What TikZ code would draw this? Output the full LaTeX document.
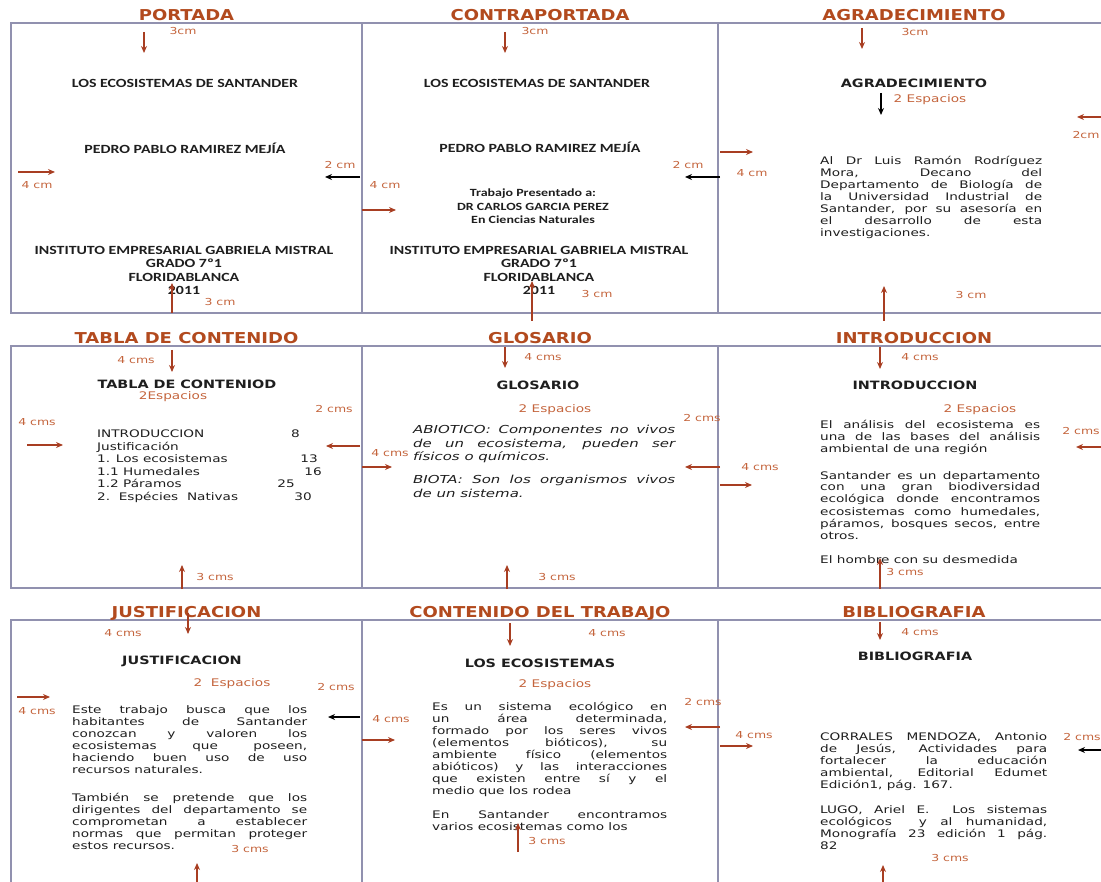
\documentclass[tikz,border=0pt]{standalone}
\usepackage{fontspec}
\usepackage{xcolor}
\usepackage{tikz}
\usetikzlibrary{arrows.meta,positioning}

\newfontfamily\pagetitlefnt[FakeStretch=1.2]{DejaVu Sans}
\newfontfamily\headfnt[FakeStretch=1.25]{DejaVu Sans}
\newfontfamily\bodyfnt[FakeStretch=1.31]{DejaVu Sans}
\newfontfamily\glossfnt[FakeStretch=1.36]{DejaVu Sans}
\newfontfamily\markfnt[FakeStretch=1.3]{DejaVu Sans}
\newfontfamily\coverfnt[FakeStretch=1.27]{Carlito}

\definecolor{titlebrown}{RGB}{178,74,30}
\definecolor{markorange}{RGB}{196,100,60}
\definecolor{arrowbrown}{RGB}{168,62,34}
\definecolor{framegray}{RGB}{145,145,175}
\definecolor{inkgray}{RGB}{30,30,30}

\tolerance=10000
\hbadness=10000
\hyphenpenalty=10000

\newcommand{\gaparrow}[4][gapline]{%
  \coordinate (#2-from) at #3;
  \coordinate (#2-to) at #4;
  \draw[#1] (#2-from) -- (#2-to);}

\begin{document}
\begin{tikzpicture}[
    x=1pt, y=-1pt,
    pagebox/.style={draw=framegray, line width=1.4pt, inner sep=0pt},
    pagetitle/.style={font=\pagetitlefnt\bfseries\fontsize{15}{16}\selectfont, text=titlebrown, inner sep=0pt, text depth=0pt},
    pagehead/.style={font=\headfnt\bfseries\fontsize{11.5}{12}\selectfont, text=inkgray, inner sep=0pt},
    coverline/.style={font=\coverfnt\bfseries\fontsize{12.5}{13.4}\selectfont, text=inkgray, align=center, inner sep=0pt},
    coversmall/.style={coverline, font=\coverfnt\bfseries\fontsize{11}{13.5}\selectfont},
    bodypara/.style={font=\bodyfnt\fontsize{10.4}{12}\selectfont, text=inkgray, align=justify, inner sep=0pt, anchor=base west},
    glosspara/.style={bodypara, font=\glossfnt\itshape\fontsize{11}{13.4}\selectfont},
    tocline/.style={font=\bodyfnt\fontsize{10.4}{12}\selectfont, text=inkgray, inner sep=0pt, anchor=base west},
    tocnum/.style={tocline, anchor=base east},
    dimlbl/.style={font=\markfnt\fontsize{9.6}{10}\selectfont, text=markorange, inner sep=0pt},
    spacelbl/.style={dimlbl, font=\markfnt\fontsize{10.5}{11}\selectfont},
    gapline/.style={draw=arrowbrown, line width=1.3pt, -{Stealth[length=7pt,width=6pt]}},
    gapblack/.style={gapline, draw=black},
]
\useasboundingbox (0,0) rectangle (1101,882);
\clip (0,0) rectangle (1101,882);

\node[pagebox, minimum width=351pt, minimum height=290pt] (portada) at (186.5,168) {};
\node[pagebox, minimum width=356pt, minimum height=290pt] (contraportada) at (540,168) {};
\node[pagebox, minimum width=392pt, minimum height=290pt] (agradecimiento) at (914,168) {};
\node[pagebox, minimum width=351pt, minimum height=242pt] (tabla) at (186.5,467) {};
\node[pagebox, minimum width=356pt, minimum height=242pt] (glosario) at (540,467) {};
\node[pagebox, minimum width=392pt, minimum height=242pt] (introduccion) at (914,467) {};
\node[pagebox, minimum width=351pt, minimum height=280pt] (justificacion) at (186.5,760) {};
\node[pagebox, minimum width=356pt, minimum height=280pt] (contenido) at (540,760) {};
\node[pagebox, minimum width=392pt, minimum height=280pt] (bibliografia) at (914,760) {};

\node[pagetitle, above=1.5pt of portada] (t-portada) {PORTADA};
\node[pagetitle, above=1.5pt of contraportada] (t-contraportada) {CONTRAPORTADA};
\node[pagetitle, above=1.5pt of agradecimiento] (t-agradecimiento) {AGRADECIMIENTO};
\node[pagetitle, above=1.5pt of tabla] (t-tabla) {TABLA DE CONTENIDO};
\node[pagetitle, above=1.5pt of glosario] (t-glosario) {GLOSARIO};
\node[pagetitle, above=1.5pt of introduccion] (t-introduccion) {INTRODUCCION};
\node[pagetitle, above=1.5pt of justificacion] (t-justificacion) {JUSTIFICACION};
\node[pagetitle, above=1.5pt of contenido] (t-contenido) {CONTENIDO DEL TRABAJO};
\node[pagetitle, above=1.5pt of bibliografia] (t-bibliografia) {BIBLIOGRAFIA};

\node[coverline] (c1-tema) at (185,83) {LOS ECOSISTEMAS DE SANTANDER};
\node[coverline] (c1-autor) at (185,148) {PEDRO PABLO RAMIREZ MEJÍA};
\node[coverline, anchor=north] (c1-inst) at (184,246) {INSTITUTO EMPRESARIAL GABRIELA MISTRAL\\GRADO 7º1\\FLORIDABLANCA\\2011};
\node[coverline] (c2-tema) at (537,83) {LOS ECOSISTEMAS DE SANTANDER};
\node[coverline] (c2-autor) at (540,147) {PEDRO PABLO RAMIREZ MEJÍA};
\node[coversmall, anchor=north] (c2-tutor) at (533,189) {Trabajo Presentado a:\\DR CARLOS GARCIA PEREZ\\En Ciencias Naturales};
\node[coverline, anchor=north] (c2-inst) at (539,246) {INSTITUTO EMPRESARIAL GABRIELA MISTRAL\\GRADO 7º1\\FLORIDABLANCA\\2011};

\node[pagehead] (h-agradecimiento) at (914,83) {AGRADECIMIENTO};
\node[pagehead] (h-tabla) at (187,384) {TABLA DE CONTENIOD};
\node[pagehead] (h-glosario) at (538,385) {GLOSARIO};
\node[pagehead] (h-introduccion) at (915,385) {INTRODUCCION};
\node[pagehead] (h-justificacion) at (182,661) {JUSTIFICACION};
\node[pagehead] (h-contenido) at (540,663) {LOS ECOSISTEMAS};
\node[pagehead] (h-bibliografia) at (915,656) {BIBLIOGRAFIA};

\node[bodypara, text width=222pt] (p3-texto) at (820,165) {Al Dr Luis Ramón Rodríguez\linebreak Mora, Decano del\linebreak Departamento de Biología de\linebreak la Universidad Industrial de\linebreak Santander, por su asesoría en\linebreak el desarrollo de esta\linebreak investigaciones.};

\node[tocline] (toc1) at (97,438) {INTRODUCCION};
\node[tocline] (toc2) at (97,450.5) {Justificación};
\node[tocline] (toc3) at (97,463) {1. Los ecosistemas};
\node[tocline] (toc4) at (97,475.5) {1.1 Humedales};
\node[tocline] (toc5) at (97,488) {1.2 Páramos};
\node[tocline] (toc6) at (97,500.5) {2.\ \ Espécies\ \ Nativas};
\node[tocnum] (num1) at (300,438) {8};
\node[tocnum] (num3) at (318,463) {13};
\node[tocnum] (num4) at (322,475.5) {16};
\node[tocnum] (num5) at (295,488) {25};
\node[tocnum] (num6) at (312,500.5) {30};

\node[glosspara, text width=262pt] (p5-abiotico) at (413,434) {ABIOTICO: Componentes no vivos\linebreak de un ecosistema, pueden ser\linebreak físicos o químicos.};
\node[glosspara, text width=262pt] (p5-biota) at (413,484) {BIOTA: Son los organismos vivos\linebreak de un sistema.};

\node[bodypara, text width=220pt] (p6-uno) at (820,429) {El análisis del ecosistema es\linebreak una de las bases del análisis\linebreak ambiental de una región};
\node[bodypara, text width=220pt] (p6-dos) at (820,479) {Santander es un departamento\linebreak con una gran biodiversidad\linebreak ecológica donde encontramos\linebreak ecosistemas como humedales,\linebreak páramos, bosques secos, entre\linebreak otros.};
\node[bodypara, text width=220pt] (p6-tres) at (820,563) {El hombre con su desmedida};

\node[bodypara, text width=235pt] (p7-uno) at (72,713) {Este trabajo busca que los\linebreak habitantes de Santander\linebreak conozcan y valoren los\linebreak ecosistemas que poseen,\linebreak haciendo buen uso de uso\linebreak recursos naturales.};
\node[bodypara, text width=235pt] (p7-dos) at (72,801) {También se pretende que los\linebreak dirigentes del departamento se\linebreak comprometan a establecer\linebreak normas que permitan proteger\linebreak estos recursos.};

\node[bodypara, text width=235pt] (p8-uno) at (432,710) {Es un sistema ecológico en\linebreak un área determinada,\linebreak formado por los seres vivos\linebreak (elementos bióticos), su\linebreak ambiente físico (elementos\linebreak abióticos) y las interacciones\linebreak que existen entre sí y el\linebreak medio que los rodea};
\node[bodypara, text width=235pt] (p8-dos) at (432,818) {En Santander encontramos\linebreak varios ecosistemas como los};

\node[bodypara, text width=227pt] (p9-uno) at (820,740) {CORRALES MENDOZA, Antonio\linebreak de Jesús, Actividades para\linebreak fortalecer la educación\linebreak ambiental, Editorial Edumet\linebreak Edición1, pág. 167.};
\node[bodypara, text width=227pt] (p9-dos) at (820,813) {LUGO, Ariel E.\ \ Los sistemas\linebreak ecológicos\ \ y al humanidad,\linebreak Monografía 23 edición 1 pág.\linebreak 82};

\node[dimlbl] (p1-toplbl) at (183,31) {3cm};
\node[dimlbl] (p1-leftlbl) at (37,185) {4 cm};
\node[dimlbl] (p1-rightlbl) at (340,165) {2 cm};
\node[dimlbl] (p1-botlbl) at (220,302) {3 cm};
\node[dimlbl] (p2-toplbl) at (535,31) {3cm};
\node[dimlbl] (p2-leftlbl) at (385,185) {4 cm};
\node[dimlbl] (p2-rightlbl) at (688,165) {2 cm};
\node[dimlbl] (p2-botlbl) at (597,294) {3 cm};
\node[dimlbl] (p3-toplbl) at (915,32) {3cm};
\node[dimlbl] (p3-leftlbl) at (752,173) {4 cm};
\node[dimlbl] (p3-rightlbl) at (1086,135) {2cm};
\node[dimlbl] (p3-botlbl) at (971,295) {3 cm};
\node[spacelbl] (p3-esp) at (930,100) {2 Espacios};
\node[dimlbl] (p4-toplbl) at (136,360) {4 cms};
\node[dimlbl] (p4-leftlbl) at (37,422) {4 cms};
\node[dimlbl] (p4-rightlbl) at (334,409) {2 cms};
\node[dimlbl] (p4-botlbl) at (215,577) {3 cms};
\node[spacelbl] (p4-esp) at (173,397) {2Espacios};
\node[dimlbl] (p5-toplbl) at (543,357) {4 cms};
\node[dimlbl] (p5-leftlbl) at (390,453) {4 cms};
\node[dimlbl] (p5-rightlbl) at (702,418) {2 cms};
\node[dimlbl] (p5-botlbl) at (557,577) {3 cms};
\node[spacelbl] (p5-esp) at (555,410) {2 Espacios};
\node[dimlbl] (p6-toplbl) at (920,357) {4 cms};
\node[dimlbl] (p6-leftlbl) at (760,467) {4 cms};
\node[dimlbl] (p6-rightlbl) at (1081,431) {2 cms};
\node[dimlbl] (p6-botlbl) at (905,572) {3 cms};
\node[spacelbl] (p6-esp) at (980,410) {2 Espacios};
\node[dimlbl] (p7-toplbl) at (123,633) {4 cms};
\node[dimlbl] (p7-leftlbl) at (37,711) {4 cms};
\node[dimlbl] (p7-rightlbl) at (336,687) {2 cms};
\node[dimlbl] (p7-botlbl) at (250,849) {3 cms};
\node[spacelbl] (p7-esp) at (232,684) {2\ \ Espacios};
\node[dimlbl] (p8-toplbl) at (607,633) {4 cms};
\node[dimlbl] (p8-leftlbl) at (391,719) {4 cms};
\node[dimlbl] (p8-rightlbl) at (703,702) {2 cms};
\node[dimlbl] (p8-botlbl) at (547,841) {3 cms};
\node[spacelbl] (p8-esp) at (555,685) {2 Espacios};
\node[dimlbl] (p9-toplbl) at (920,632) {4 cms};
\node[dimlbl] (p9-leftlbl) at (754,735) {4 cms};
\node[dimlbl] (p9-rightlbl) at (1082,737) {2 cms};
\node[dimlbl] (p9-botlbl) at (950,858) {3 cms};

\gaparrow{p1-top}{(144,32)}{(144,53)}
\gaparrow{p1-left}{(18,172)}{(55,172)}
\gaparrow[gapblack]{p1-right}{(360,177)}{(325,177)}
\gaparrow{p1-bot}{(172,313)}{(172,283)}
\gaparrow{p2-top}{(505,32)}{(505,53)}
\gaparrow{p2-left}{(362,210)}{(396,210)}
\gaparrow[gapblack]{p2-right}{(720,177)}{(685,177)}
\gaparrow{p2-bot}{(532,321)}{(532,281)}
\gaparrow{p3-top}{(862,28)}{(862,49)}
\gaparrow{p3-left}{(720,152)}{(753,152)}
\gaparrow{p3-right}{(1101,117)}{(1077,117)}
\gaparrow{p3-bot}{(884,321)}{(884,286)}
\gaparrow[gapblack]{p3-space}{(881,93)}{(881,115)}
\gaparrow{p4-top}{(172,350)}{(172,372)}
\gaparrow{p4-left}{(27,445)}{(63,445)}
\gaparrow{p4-right}{(360,446)}{(326,446)}
\gaparrow{p4-bot}{(182,589)}{(182,565)}
\gaparrow{p5-top}{(505,347)}{(505,368)}
\gaparrow{p5-left}{(362,467)}{(392,467)}
\gaparrow{p5-right}{(720,467)}{(685,467)}
\gaparrow{p5-bot}{(507,589)}{(507,565)}
\gaparrow{p6-top}{(880,347)}{(880,369)}
\gaparrow{p6-left}{(720,485)}{(752,485)}
\gaparrow{p6-right}{(1101,447)}{(1076,447)}
\gaparrow{p6-bot}{(880,589)}{(880,558)}
\gaparrow{p7-top}{(188,613)}{(188,634)}
\gaparrow{p7-left}{(17,697)}{(50,697)}
\gaparrow[gapblack]{p7-right}{(360,717)}{(328,717)}
\gaparrow{p7-bot}{(197,882)}{(197,863)}
\gaparrow{p8-top}{(510,623)}{(510,646)}
\gaparrow{p8-left}{(362,740)}{(395,740)}
\gaparrow{p8-right}{(720,727)}{(685,727)}
\gaparrow{p8-bot}{(518,852)}{(518,823)}
\gaparrow{p9-top}{(880,622)}{(880,640)}
\gaparrow{p9-left}{(720,746)}{(753,746)}
\gaparrow[gapblack]{p9-right}{(1101,750)}{(1078,750)}
\gaparrow{p9-bot}{(883,882)}{(883,865)}
\end{tikzpicture}
\end{document}
